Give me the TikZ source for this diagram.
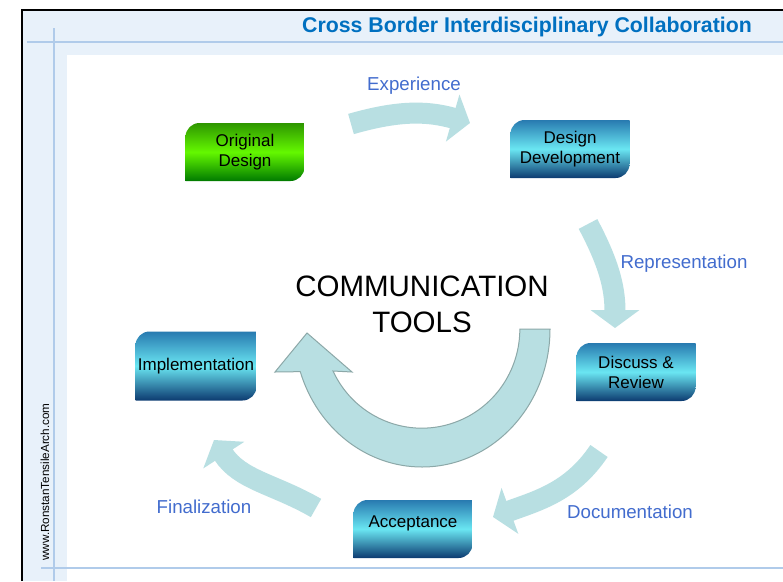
\documentclass[tikz,border=0pt]{standalone}
\usepackage{fontspec}
\setmainfont{Liberation Sans}
\usepackage{tikz}
\usetikzlibrary{arrows.meta,positioning}
\definecolor{titleblue}{RGB}{0,112,192}
\definecolor{labelblue}{RGB}{66,108,206}
\definecolor{flowfill}{RGB}{184,223,226}
\definecolor{flowline}{RGB}{140,168,168}
\definecolor{framefill}{RGB}{232,241,250}
\definecolor{frameline}{RGB}{176,203,234}
\definecolor{greentop}{RGB}{46,150,0}
\definecolor{greenmid}{RGB}{100,248,0}
\definecolor{greenbot}{RGB}{0,122,0}
\definecolor{bluetop}{RGB}{40,122,176}
\definecolor{bluemid}{RGB}{106,230,242}
\definecolor{bluebot}{RGB}{12,58,112}
\tikzset{
  every picture/.style = {
    x = 1pt,
    y = -1pt,
  }
  ,
  flow/.style = {
    draw = flowfill,
    line width = 21pt,
    -{Triangle[width = 48pt, length = 18pt]}
  }
  ,
  greenshade/.style = {
    top color = greentop,
    bottom color = greenbot,
    middle color = greenmid
  }
  ,
  blueshade/.style = {
    top color = bluetop,
    bottom color = bluebot,
    middle color = bluemid
  }
  , % boxes with two round corners
  panel/.style = {
    minimum width = 119pt,
    minimum height = 58pt,
    inner sep = 0pt,
    align = center,
    font = \fontsize{17}{20}\selectfont,
    path picture = {
      \shade[#1] (path picture bounding box.south west)
        -- ([yshift=-14pt]path picture bounding box.north west)
        arc[start angle = 180, end angle = 90, radius = 14pt]
        -- (path picture bounding box.north east)
        -- ([yshift=14pt]path picture bounding box.south east)
        arc[start angle = 0, end angle = -90, radius = 14pt]
        -- cycle;
    }
  }
  , % labels of arrows
  label-flow/.style = {
    text = labelblue,
    font = \fontsize{18.7}{22}\selectfont
  }
}

\begin{document}
\begin{tikzpicture}
\useasboundingbox (0,0) rectangle (783,581);
% slide frame
\fill[framefill] (22,10) rectangle (783,581);
\fill[white] (67,55) rectangle (783,581);
\draw[frameline, line width = 1.5pt] (27,42) -- (783,42);
\draw[frameline, line width = 1.5pt] (54,28) -- (54,581);
\draw[frameline, line width = 1.5pt] (41,568) -- (783,568);
\draw[line width = 2.5pt] (22,581) -- (22,10) -- (783,10);
\node[font = \bfseries\fontsize{21.3}{24}\selectfont, text = titleblue] (title) at (527,27) {Cross Border Interdisciplinary Collaboration};
\node[rotate = 90, font = \fontsize{11.7}{14}\selectfont] (site) at (45,482) {www.RonstanTensileArch.com};

% outer cycle
\coordinate (exp-s) at (351,124);
\coordinate (exp-e) at (470,123);
\coordinate (rep-s) at (588,224);
\coordinate (rep-e) at (615,328);
\coordinate (doc-s) at (599,451);
\coordinate (doc-e) at (493,517);
\coordinate (fin-s) at (316,508);
\coordinate (fin-e) at (214,440);
\draw[flow] (exp-s) to[out = 16, in = 164] (exp-e);
\draw[flow] (rep-s) to[out = -62, in = 90] (rep-e);
\draw[flow] (doc-s) to[out = -124, in = 20] (doc-e);
\draw[flow] (fin-s) to[out = 150, in = -57] (fin-e);

% big arrow
\filldraw[fill = flowfill, draw = flowline, line width = 1pt]
  (550,329) arc[start angle = 0, end angle = 162, x radius = 128, y radius = 138]
  -- (275,372) -- (307,333) -- (352,372) -- (333,371)
  arc[start angle = 155, end angle = 0, x radius = 98, y radius = 99] -- cycle;

\node[panel = greenshade] (original) at (245,152) {Original\\Design};
\node[panel = blueshade] (development) at (570,149) {Design\\Development};
\node[panel = blueshade] (review) at (636,372) {Discuss \&\\Review};
\node[panel = blueshade, minimum width = 121pt, minimum height = 69pt] (implementation) at (196,366) {Implementation};
\node[panel = blueshade, text depth = 15pt] (acceptance) at (413,529) {Acceptance};

\node[label-flow] (experience) at (414,86) {Experience};
\node[label-flow] (representation) at (684,264) {Representation};
\node[label-flow] (documentation) at (630,512) {Documentation};
\node[label-flow] (finalization) at (204,507) {Finalization};
\node[align = center, font = \fontsize{29.5}{36}\selectfont] (tools) at (422,304) {COMMUNICATION\\TOOLS};
\end{tikzpicture}
\end{document}
